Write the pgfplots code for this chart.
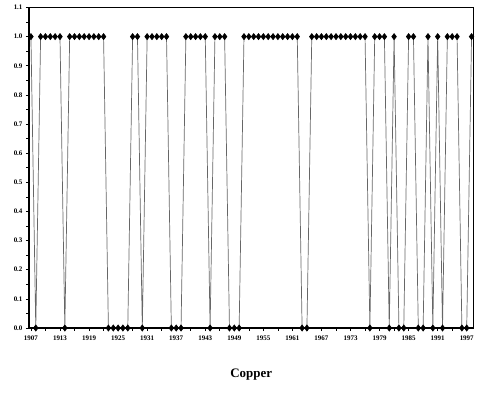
\documentclass[border=0pt]{standalone}
\usepackage{fontspec}
\setmainfont{Liberation Serif}
\usepackage{pgfplots}
\pgfplotsset{compat=1.18}
\begin{document}
\begin{tikzpicture}
\begin{axis}[
  scale only axis,
  width=444.5bp, height=320.5bp,
  xmin=1906.6, xmax=1998.4,
  ymin=0, ymax=1.1,
  axis line style={black, line width=0.9bp},
  xtick pos=left, ytick pos=left,
  xtick={1907,1913,...,1997},
  minor xtick={1910,1916,...,1994},
  ytick={0,0.1,...,1.1},
  minor ytick={0.05,0.15,...,1.05},
  tick align=outside,
  major tick length=3bp, minor tick length=2.5bp,
  tick style={black, line width=0.6bp},
  every tick label/.style={font=\bfseries\fontsize{7}{8}\selectfont},
  x tick label style={/pgf/number format/1000 sep={}, yshift=-1bp},
  y tick label style={/pgf/number format/.cd, fixed, fixed zerofill, precision=1},
  /pgf/number format/assume math mode=true,
  xlabel={\bfseries\fontsize{13}{15}\selectfont Copper},
  xlabel style={yshift=-22bp},
  clip=false,
]
\addplot[black!60, line width=0.7bp, mark=diamond*, mark size=3bp,
  mark options={black, fill=black, draw=black}] table {
x y
1907 1
1908 0
1909 1
1910 1
1911 1
1912 1
1913 1
1914 0
1915 1
1916 1
1917 1
1918 1
1919 1
1920 1
1921 1
1922 1
1923 0
1924 0
1925 0
1926 0
1927 0
1928 1
1929 1
1930 0
1931 1
1932 1
1933 1
1934 1
1935 1
1936 0
1937 0
1938 0
1939 1
1940 1
1941 1
1942 1
1943 1
1944 0
1945 1
1946 1
1947 1
1948 0
1949 0
1950 0
1951 1
1952 1
1953 1
1954 1
1955 1
1956 1
1957 1
1958 1
1959 1
1960 1
1961 1
1962 1
1963 0
1964 0
1965 1
1966 1
1967 1
1968 1
1969 1
1970 1
1971 1
1972 1
1973 1
1974 1
1975 1
1976 1
1977 0
1978 1
1979 1
1980 1
1981 0
1982 1
1983 0
1984 0
1985 1
1986 1
1987 0
1988 0
1989 1
1990 0
1991 1
1992 0
1993 1
1994 1
1995 1
1996 0
1997 0
1998 1
};
\draw[black, line width=1.8bp, line cap=rect] (rel axis cs:0,1) -- (rel axis cs:0,0) -- (rel axis cs:1,0);
\coordinate (SW) at (rel axis cs:0,0);
\end{axis}
\pgfresetboundingbox
\path[use as bounding box] ([xshift=-29bp,yshift=-65bp]SW) rectangle ++(478bp,393bp);
\end{tikzpicture}
\end{document}
